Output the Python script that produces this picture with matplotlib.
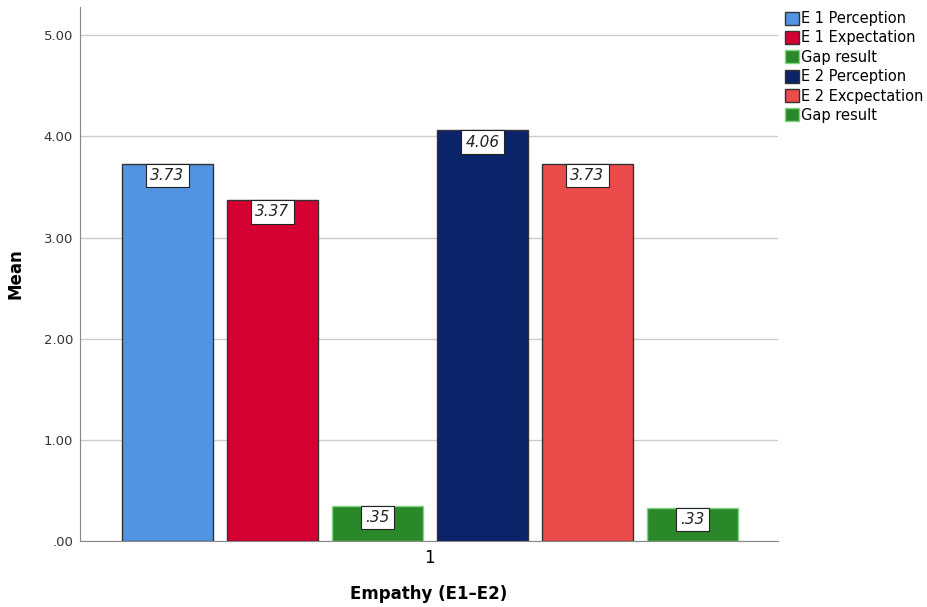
import numpy as np
import matplotlib.pyplot as plt
from matplotlib.ticker import FuncFormatter

# bar data
series = ["E 1 Perception", "E 1 Expectation", "Gap result",
          "E 2 Perception", "E 2 Excpectation", "Gap result"]
means = [3.73, 3.37, 0.35, 4.06, 3.73, 0.33]
labels = ["3.73", "3.37", ".35", "4.06", "3.73", ".33"]
colors = ["#5294e2", "#d50032", "#2a882a", "#0b2369", "#ec4b4b", "#2a882a"]
edges = ["#333333", "#333333", "#7fd67f", "#333333", "#333333", "#7fd67f"]

fig = plt.figure(figsize=(9.28, 6.07), dpi=100)
ax = fig.add_axes([0.0862, 0.1087, 0.752, 0.88])

x = np.arange(len(means))
for i in range(len(means)):
    ax.bar(x[i], means[i], width=0.867, color=colors[i], edgecolor=edges[i],
           linewidth=1, label=series[i], zorder=3)
    ax.annotate(labels[i], (x[i], means[i]), xytext=(0, -8.5),
                textcoords="offset points", ha="center", va="center",
                fontsize=11, style="italic", color="#222222", zorder=5,
                bbox=dict(boxstyle="square,pad=0.28", fc="white", ec="#222222", lw=0.8))

ax.set_xlim(-0.833, 5.814)
ax.set_ylim(0, 5.28)
ax.set_yticks([0, 1, 2, 3, 4, 5])
ax.yaxis.set_major_formatter(FuncFormatter(lambda v, p: ".00" if v == 0 else f"{v:.2f}"))
ax.set_xticks([2.5])
ax.set_xticklabels(["1"], fontsize=12)
ax.tick_params(axis="y", length=0, labelsize=9.5, labelcolor="#333333", pad=5)
ax.tick_params(axis="x", length=0, pad=6)

ax.grid(axis="y", color="#cccccc", lw=1, zorder=0)
for s in ["top", "right"]:
    ax.spines[s].set_visible(False)
for s in ["left", "bottom"]:
    ax.spines[s].set_color("#888888")

ax.set_ylabel("Mean", fontsize=12, fontweight="bold", labelpad=14)
ax.set_xlabel("Empathy (E1\u2013E2)", fontsize=12, fontweight="bold", labelpad=13)

ax.legend(loc="upper left", bbox_to_anchor=(1.002, 1.003), frameon=False,
          fontsize=10.5, handlelength=0.95, handleheight=1.0, handletextpad=0.15,
          labelspacing=0.3, borderaxespad=0)

fig.savefig("out.png", dpi=100)
